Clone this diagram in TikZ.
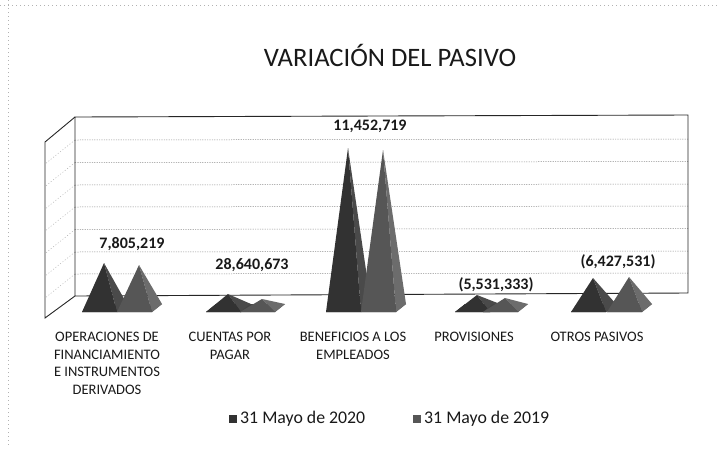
\documentclass[tikz,border=0pt]{standalone}
\usepackage{fontspec}
\setmainfont{Carlito}
\begin{document}
\begin{tikzpicture}[x=1pt,y=-1pt,
  wall/.style={draw=black!85,line width=0.9pt},
  grid/.style={draw=black!45,line width=0.5pt,dash pattern=on 1.2pt off 1.2pt},
  sidegrid/.style={draw=black!35,line width=0.4pt,dash pattern=on 1pt off 2pt},
  scan/.style={draw=black!30,line width=0.4pt,dash pattern=on 1pt off 3pt},
  catlabel/.style={font=\fontsize{14.5}{17.5}\selectfont,align=center,anchor=north,text=black!90,inner sep=0pt},
  vallabel/.style={font=\fontsize{16}{18}\selectfont\bfseries,text=black!90,inner sep=0pt},
  leglabel/.style={font=\fontsize{17.8}{20}\selectfont,anchor=west,text=black!90,inner sep=0pt}]
\useasboundingbox (0,0) rectangle (718,448);
\fill[white] (0,0) rectangle (718,448);
% scan border artifacts
\draw[scan] (0,5) -- (718,5);
\draw[scan] (8,0) -- (8,448);
% back wall gridlines
\foreach \gy in {140,162.5,185,207,229.5,252,274} {
  \draw[grid] (75,\gy) -- (688,\gy-1);
  \draw[sidegrid] (75,\gy) -- (45,\gy+24);
}
% walls
\draw[wall] (75,296) -- (75,117) -- (688,115) -- (688,293) -- (75,296);
\draw[wall] (75,117) -- (45,142) -- (45,318) -- (75,296);
% pyramids
\newcommand\drawpyr[4]{%
  \fill[#3!80!black] (#1,312) -- ({#1+35},312) -- ({#1+45},304) -- ({#1+10},304) -- cycle;
  \fill[#4] ({#1+35},312) -- ({#1+45},304) -- ({#1+22},#2) -- cycle;
  \fill[#3] (#1,312) -- ({#1+35},312) -- ({#1+22},#2) -- cycle;
}
\definecolor{ca}{HTML}{323232}
\definecolor{cas}{HTML}{4A4A4A}
\definecolor{cb}{HTML}{565656}
\definecolor{cbs}{HTML}{6C6C6C}
\drawpyr{82}{263}{ca}{cas}
\drawpyr{117}{265}{cb}{cbs}
\drawpyr{206}{294}{ca}{cas}
\drawpyr{240}{299}{cb}{cbs}
\drawpyr{326}{148}{ca}{cas}
\drawpyr{361}{150}{cb}{cbs}
\drawpyr{455}{295}{ca}{cas}
\drawpyr{483}{298}{cb}{cbs}
\drawpyr{571}{278}{ca}{cas}
\drawpyr{607}{277}{cb}{cbs}
% title
\node[font=\fontsize{26.6}{30}\selectfont,text=black!90,inner sep=0pt] (title) at (390,55) {VARIACIÓN DEL PASIVO};
% value labels
\node[vallabel] (v1) at (132,244) {7,805,219};
\node[vallabel] (v2) at (252,265) {28,640,673};
\node[vallabel] (v3) at (370,126) {11,452,719};
\node[vallabel] (v4) at (496,285) {(5,531,333)};
\node[vallabel] (v5) at (618,262) {(6,427,531)};
% category labels
\node[catlabel] (c1) at (107,332) {OPERACIONES DE\\FINANCIAMIENTO\\E INSTRUMENTOS\\DERIVADOS};
\node[catlabel] (c2) at (230,332) {CUENTAS POR\\PAGAR};
\node[catlabel] (c3) at (353,332) {BENEFICIOS A LOS\\EMPLEADOS};
\node[catlabel] (c4) at (474,332) {PROVISIONES};
\node[catlabel] (c5) at (597,332) {OTROS PASIVOS};
% legend
\fill[ca] (229,414.5) rectangle (237,422.5);
\node[leglabel] (l1) at (240,418.5) {31 Mayo de 2020};
\fill[cb] (413,414.5) rectangle (421,422.5);
\node[leglabel] (l2) at (424,418.5) {31 Mayo de 2019};
\end{tikzpicture}
\end{document}
